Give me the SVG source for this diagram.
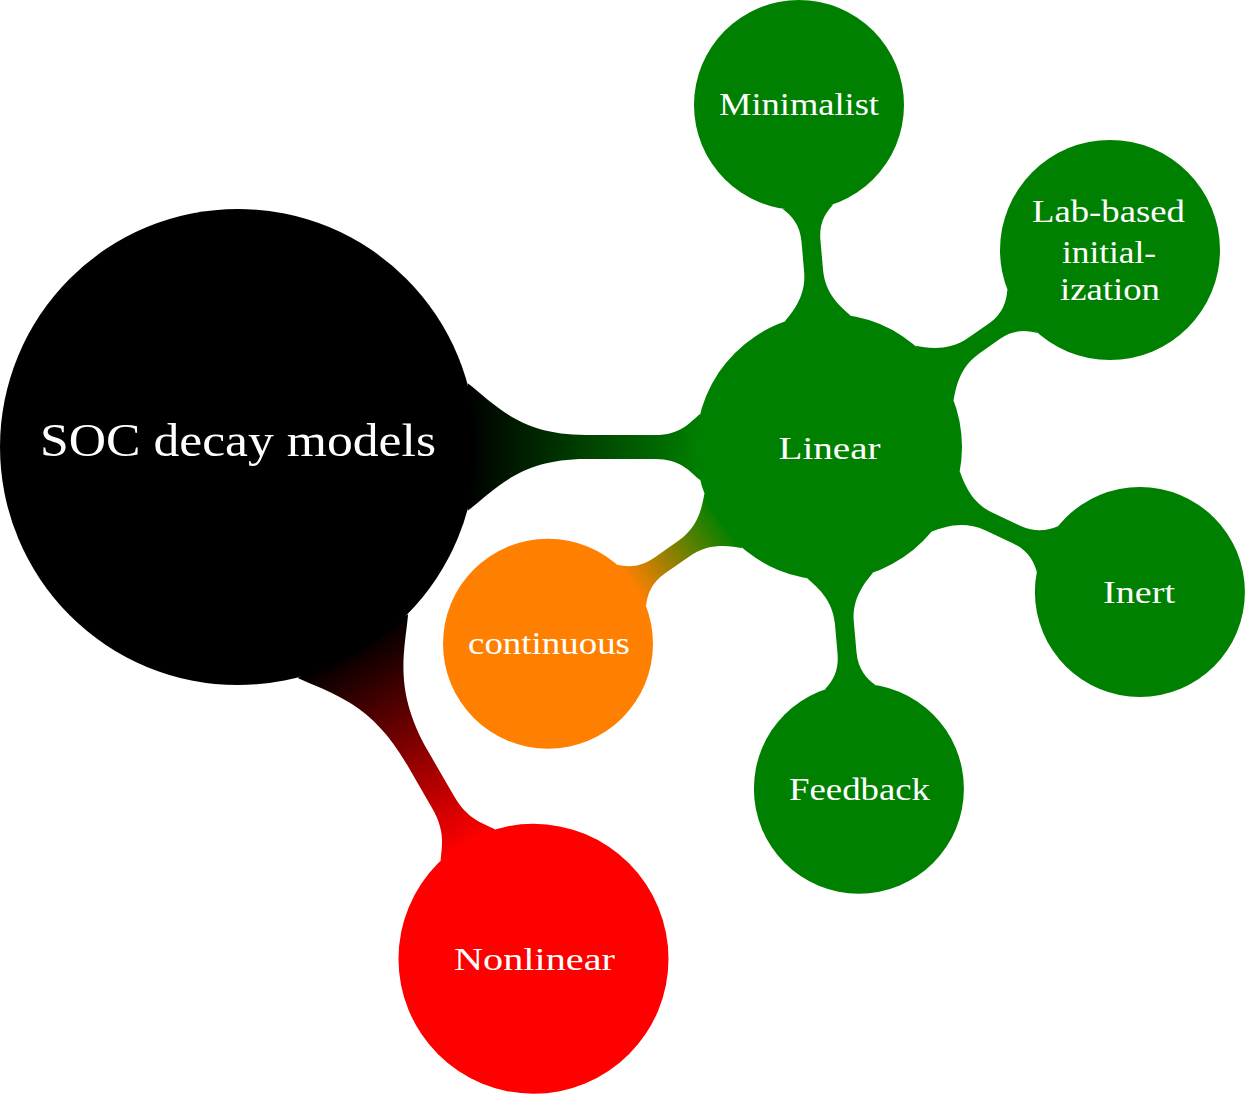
<svg xmlns="http://www.w3.org/2000/svg" xmlns:xlink="http://www.w3.org/1999/xlink" width="1246" height="1094" viewBox="0 0 1246 1094">
<style>
  .lbl { font-family: "Liberation Serif", "DejaVu Serif", serif; fill: #ffffff; text-anchor: middle; font-size: 31px; }
  .big { font-size: 46px; }
  .black { fill: #000000; }
  .green { fill: #008000; }
  .orange { fill: #ff8000; }
  .red { fill: #ff0000; }
</style>
<defs>
  <linearGradient id="gBlackGreen" x1="0" y1="0" x2="1" y2="0">
    <stop offset="0" stop-color="#000000"/>
    <stop offset="1" stop-color="#008000"/>
  </linearGradient>
  <linearGradient id="gBlackRed" x1="0" y1="0" x2="1" y2="0">
    <stop offset="0" stop-color="#000000"/>
    <stop offset="1" stop-color="#ff0000"/>
  </linearGradient>
  <linearGradient id="gGreenOrange" x1="0" y1="0" x2="1" y2="0">
    <stop offset="0" stop-color="#008000"/>
    <stop offset="1" stop-color="#ff8000"/>
  </linearGradient>
  <path id="barChild" d="M128.76,-33.3 C138.36,-23.78 152.76,-9.5 176.76,-9.5 L207.12,-9.5 C224.12,-9.5 234.32,-17.45 241.12,-25.4 L241.12,25.4 C234.32,17.45 224.12,9.5 207.12,9.5 L176.76,9.5 C152.76,9.5 138.36,23.78 128.76,33.3 Z"/>
  <path id="barLab" d="M128.76,-33.3 C138.36,-23.78 152.76,-9.5 176.76,-9.5 L202.27,-9.5 C219.27,-9.5 229.47,-18.06 236.27,-26.61 L236.27,26.61 C229.47,18.06 219.27,9.5 202.27,9.5 L176.76,9.5 C152.76,9.5 138.36,23.78 128.76,33.3 Z"/>
</defs>

<g id="connectors">
  <path transform="translate(238,447)" fill="url(#gBlackGreen)" d="M229.83,-63.74 C259.33,-40.46 282.93,-12 347.83,-12 L417.24,-12 C441.99,-12 450.99,-23.72 462.24,-33.3 L462.24,33.3 C450.99,23.72 441.99,12 417.24,12 L347.83,12 C282.93,12 259.33,40.46 229.83,63.74 Z"/>
  <path transform="translate(238,447) rotate(60)" fill="url(#gBlackRed)" d="M229.83,-63.74 C262.33,-40.68 288.33,-12.5 359.83,-12.5 L409.73,-12.5 C437.23,-12.5 447.23,-22.96 459.73,-31.52 L459.73,31.52 C447.23,22.96 437.23,12.5 409.73,12.5 L359.83,12.5 C288.33,12.5 262.33,40.68 229.83,63.74 Z"/>
  <use xlink:href="#barChild" href="#barChild" transform="translate(829,447) rotate(-95)" fill="#008000"/>
  <use xlink:href="#barLab" href="#barLab" transform="translate(829,447) rotate(-35)" fill="#008000"/>
  <use xlink:href="#barChild" href="#barChild" transform="translate(829,447) rotate(25)" fill="#008000"/>
  <use xlink:href="#barChild" href="#barChild" transform="translate(829,447) rotate(85)" fill="#008000"/>
  <use xlink:href="#barChild" href="#barChild" transform="translate(829,447) rotate(145)" fill="url(#gGreenOrange)"/>
</g>

<g id="node-soc">
  <circle class="black" cx="238" cy="447" r="238"/>
  <text class="lbl big" x="238" y="456" textLength="396" lengthAdjust="spacingAndGlyphs">SOC decay models</text>
</g>
<g id="node-linear">
  <circle class="green" cx="829" cy="447" r="133"/>
  <text class="lbl" x="829.5" y="458.5" textLength="102" lengthAdjust="spacingAndGlyphs">Linear</text>
</g>
<g id="node-minimalist">
  <circle class="green" cx="799" cy="105" r="105"/>
  <text class="lbl" x="799" y="115" textLength="160" lengthAdjust="spacingAndGlyphs">Minimalist</text>
</g>
<g id="node-labbased">
  <circle class="green" cx="1110" cy="250" r="110"/>
  <text class="lbl" x="1108.5" y="222" textLength="153" lengthAdjust="spacingAndGlyphs">Lab-based</text>
  <text class="lbl" x="1109" y="262.5" textLength="94" lengthAdjust="spacingAndGlyphs">initial-</text>
  <text class="lbl" x="1110" y="300" textLength="100" lengthAdjust="spacingAndGlyphs">ization</text>
</g>
<g id="node-inert">
  <circle class="green" cx="1139.9" cy="592" r="105"/>
  <text class="lbl" x="1139" y="603" textLength="72" lengthAdjust="spacingAndGlyphs">Inert</text>
</g>
<g id="node-feedback">
  <circle class="green" cx="858.9" cy="788.7" r="105"/>
  <text class="lbl" x="859.5" y="800" textLength="141" lengthAdjust="spacingAndGlyphs">Feedback</text>
</g>
<g id="node-continuous">
  <circle class="orange" cx="548" cy="643.7" r="105"/>
  <text class="lbl" x="549" y="653.5" textLength="162" lengthAdjust="spacingAndGlyphs">continuous</text>
</g>
<g id="node-nonlinear">
  <circle class="red" cx="533.5" cy="958.8" r="135"/>
  <text class="lbl" x="534.5" y="970" textLength="161" lengthAdjust="spacingAndGlyphs">Nonlinear</text>
</g>
</svg>
